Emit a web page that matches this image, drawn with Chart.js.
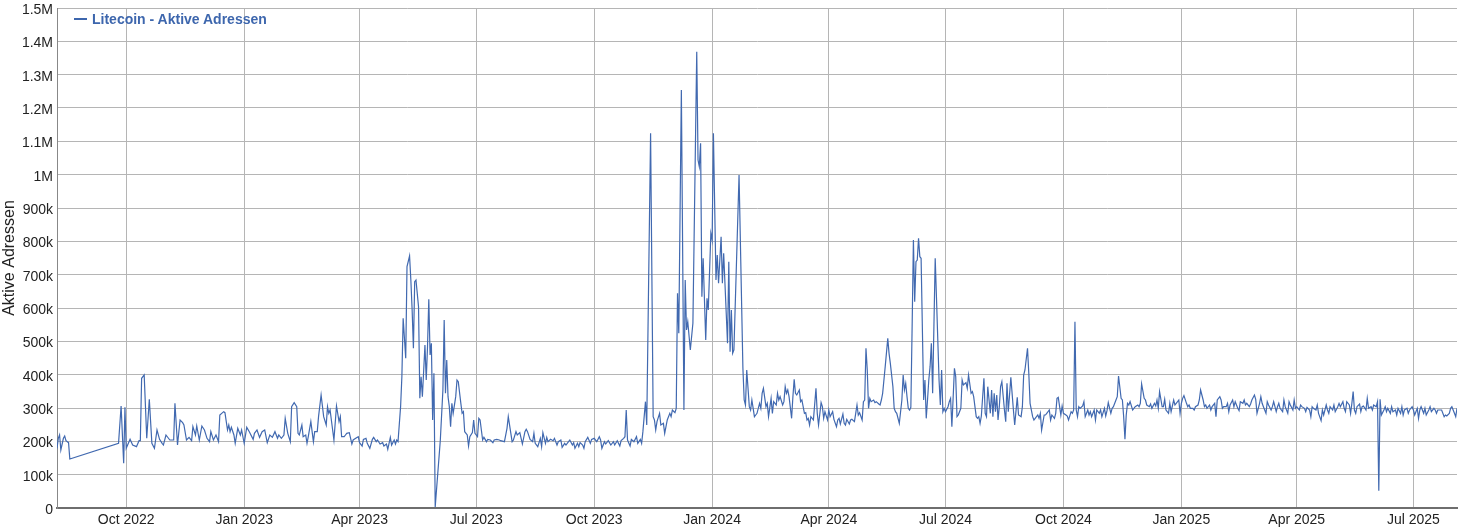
<!DOCTYPE html>
<html>
<head>
<meta charset="utf-8">
<title>Litecoin - Aktive Adressen</title>
<script src="https://cdn.jsdelivr.net/npm/chart.js@4.4.1/dist/chart.umd.min.js"></script>
<style>
  html, body { margin: 0; padding: 0; background: #fff; }
  #wrap { position: relative; width: 1463px; height: 528px; }
  #legend { position: absolute; left: 74px; top: 11px; font: bold 14px Arial, "Liberation Sans", sans-serif; color: #3d66ad; line-height: 16px; white-space: nowrap; }
  #legend i { display: inline-block; width: 13px; height: 2px; background: #3d66ad; vertical-align: middle; margin-right: 5px; position: relative; top: -1px; }
</style>
</head>
<body>
<div id="wrap">
  <canvas id="chart" width="1463" height="528"></canvas>
  <div id="legend"><i></i>Litecoin - Aktive Adressen</div>
</div>
<script>
// day offsets count from 2022-08-08, values in thousands of active addresses
const aug22Feb23 = [
  [0,179],[1,209],[2,219],[3,174],[5,209],[6,216],[7,202],[9,196],[10,147],
  [48,194],[50,306],[52,134],[53,302],[54,179],[57,206],[59,189],[62,184],[64,202],[65,202],
  [66,389],[68,399],[70,209],[72,326],[74,194],[76,179],[78,234],[80,206],[82,194],[83,189],
  [85,219],[88,204],[91,204],[92,314],[94,189],[96,264],[98,256],[99,249],[101,204],[103,212],
  [105,202],[106,244],[108,219],[109,246],[111,204],[113,246],[115,234],[117,209],[119,199],[120,229],
  [122,204],[124,219],[126,199],[127,279],[130,289],[131,286],[133,234],[134,249],[135,229],[136,242],
  [138,219],[139,194],[141,239],[143,219],[144,234],[146,194],[148,242],[150,229],[153,206],[154,224],
  [156,234],[158,212],[160,229],[162,234],[164,196],[166,219],[168,212],[170,229],[172,209],[173,219],
  [175,209],[177,219],[178,269],[180,224],[182,199],[183,304],[185,316]
]
const feb23Aug23 = [
  [187,304],[188,224],[189,219],[191,249],[192,214],[194,219],[195,194],[196,214],[198,259],[200,199],
  [201,229],[203,229],[204,274],[206,339],[208,274],[210,249],[211,304],[212,284],[213,294],[215,234],
  [216,204],[218,306],[220,259],[221,274],[222,214],[224,214],[225,219],[226,224],[228,226],[230,192],
  [231,204],[233,209],[235,214],[236,196],[238,186],[239,206],[241,209],[242,194],[244,179],[246,206],
  [247,212],[249,199],[250,204],[252,192],[254,196],[255,186],[257,192],[258,176],[260,212],[261,189],
  [263,204],[264,192],[265,204],[266,199],[268,304],[269,394],[270,569],[272,449],[273,724],[275,756],
  [276,684],[277,594],[278,479],[279,679],[280,684],[282,604],[283,329],[284,394],[285,334],[287,489],
  [288,384],[289,484],[290,626],[291,459],[292,494],[293,264],[294,404],[295,3],[299,204],[301,354],
  [302,564],[303,344],[304,444],[305,334],[306,304],[307,244],[308,314],[309,284],[311,334],[312,384],
  [313,379],[315,314],[316,284],[317,289],[318,229],[320,219],[321,186],[322,214],[324,226],[325,264],
  [326,224],[328,214],[329,269],[330,264],[332,204],[333,212],[335,199],[336,206],[338,204],[340,196],
  [341,204],[343,206],[345,204],[346,202],[349,199],[351,239],[352,274],[354,224],[355,199],[356,204],
  [358,229],[359,219],[361,226],[363,192],[365,229],[366,236],[367,229],[369,206]
]
const aug23Feb24 = [
  [371,199],[372,224],[373,194],[375,184],[377,209],[378,184],[379,226],[381,194],[382,212],[383,199],
  [385,206],[387,202],[388,209],[390,189],[391,199],[393,204],[394,182],[396,194],[397,189],[399,199],
  [400,204],[402,189],[403,196],[404,179],[406,194],[407,184],[408,196],[410,189],[411,179],[412,199],
  [414,212],[416,194],[417,206],[419,209],[421,199],[423,214],[424,204],[425,179],[427,199],[428,192],
  [430,202],[432,189],[434,199],[435,189],[437,202],[439,186],[440,202],[442,209],[443,214],[444,294],
  [445,204],[447,186],[448,206],[450,199],[452,214],[453,194],[455,206],[456,194],[457,229],[459,319],
  [460,249],[463,1124],[465,274],[466,264],[467,234],[468,259],[470,284],[471,249],[473,254],[474,224],
  [476,264],[478,284],[479,274],[480,294],[482,286],[483,299],[484,644],[485,524],[487,1254],[489,294],
  [490,684],[491,534],[492,559],[494,474],[496,554],[499,1369],[500,1044],[501,1024],[502,1094],[503,634],
  [504,749],[506,504],[507,629],[508,594],[510,824],[511,804],[512,1124],[514,684],[515,759],[516,674],
  [518,814],[519,674],[520,764],[521,674],[523,494],[524,739],[525,469],[526,594],[527,464],[528,474],
  [532,999],[535,420],[536,324],[537,309],[538,414],[540,304],[541,294],[542,324],[544,274],[545,279],
  [546,284],[548,314],[549,299],[550,344],[551,359],[553,304],[554,314],[555,274]
]
const feb24Aug24 = [
  [557,329],[558,284],[559,319],[561,309],[562,344],[563,324],[564,334],[566,309],[567,319],[568,364],
  [569,344],[570,354],[571,334],[573,269],[574,334],[575,386],[576,344],[577,339],[579,354],[580,319],
  [581,324],[583,284],[584,286],[585,264],[586,269],[587,249],[588,274],[590,264],[592,359],[593,284],
  [594,249],[596,316],[597,304],[598,269],[599,289],[601,264],[602,294],[603,274],[605,289],[606,266],
  [608,244],[609,264],[610,269],[611,252],[613,282],[614,254],[615,249],[616,266],[618,252],[619,264],
  [620,266],[622,259],[623,284],[624,309],[625,279],[626,286],[628,264],[629,319],[630,324],[631,479],
  [632,414],[633,299],[634,329],[635,319],[637,324],[638,316],[639,319],[641,312],[642,309],[643,324],
  [644,344],[646,424],[648,509],[649,464],[650,434],[652,364],[653,299],[654,289],[655,284],[657,254],
  [659,324],[660,399],[661,354],[662,374],[663,334],[664,299],[665,294],[666,302],[667,544],[668,804],
  [669,619],[670,739],[671,744],[672,809],[673,754],[674,749],[676,324],[677,384],[678,269],[679,324],
  [680,384],[681,424],[682,494],[683,344],[685,749],[686,629],[688,384],[689,309],[690,414],[691,289],
  [692,299],[693,289],[695,304],[696,319],[697,329],[698,244],[700,419],[701,394],[702,274],[703,279],
  [705,299],[706,384],[707,369],[709,376],[710,359],[711,399],[713,344],[714,349],[715,334],[717,274],
  [718,269],[719,274],[720,254],[721,276],[723,389],[724,284],[725,274],[726,364],[728,284],[729,354],
  [730,274],[731,344],[732,289],[733,339],[734,264],[735,304],[736,364],[737,379],[739,294]
]
const aug24Feb25 = [
  [740,259],[741,374],[742,289],[744,392],[746,294],[747,249],[749,332],[750,279],[752,274],[753,304],
  [754,399],[755,414],[757,479],[758,404],[759,314],[761,274],[762,264],[763,269],[765,279],[766,269],
  [767,284],[768,234],[770,279],[771,279],[772,284],[774,294],[775,264],[776,279],[778,269],[779,284],
  [780,329],[781,332],[783,279],[784,306],[785,284],[787,279],[788,276],[789,264],[791,289],[792,284],
  [793,294],[794,559],[795,294],[796,274],[797,304],[798,299],[800,306],[801,319],[802,274],[804,294],
  [805,279],[806,289],[807,274],[809,294],[810,264],[811,294],[813,284],[814,294],[815,274],[817,299],
  [818,276],[819,292],[820,316],[822,284],[823,299],[824,304],[826,324],[827,334],[828,396],[830,329],
  [831,324],[832,274],[833,206],[834,279],[835,314],[836,309],[837,319],[839,294],[840,299],[841,304],
  [843,309],[844,304],[845,314],[846,372],[848,329],[849,324],[850,309],[852,304],[853,312],[854,299],
  [856,314],[857,306],[858,324],[859,299],[860,349],[862,304],[863,304],[864,326],[865,294],[867,284],
  [868,314],[869,289],[871,324],[872,309],[873,314],[875,324],[876,284],[877,314],[878,329],[879,337],
  [881,314],[882,304],[883,309],[884,299],[886,299],[887,294],[888,304],[890,309],[891,324],[892,354],
  [894,324],[895,304],[896,309],[897,299],[899,309],[900,294],[901,304],[903,314],[904,274],[905,324],
  [907,334],[908,324],[909,299],[910,304]
]
const feb25Aug25 = [
  [912,304],[913,314],[914,289],[915,309],[917,324],[918,304],[919,319],[921,299],[922,292],[923,319],
  [925,314],[926,324],[927,309],[928,314],[930,304],[931,312],[932,324],[934,339],[935,326],[936,284],
  [938,314],[939,334],[940,314],[941,304],[943,284],[944,319],[945,309],[947,294],[948,304],[949,319],
  [951,289],[952,304],[953,314],[954,299],[956,289],[957,324],[958,304],[960,284],[961,319],[962,309],
  [964,294],[965,324],[966,299],[967,304],[969,294],[970,309],[971,304],[973,299],[974,289],[975,302],
  [977,294],[978,274],[979,304],[980,299],[982,294],[983,309],[984,284],[986,262],[987,294],[988,279],
  [990,309],[991,294],[992,284],[993,304],[995,294],[996,309],[997,289],[999,304],[1000,314],[1001,304],
  [1003,319],[1004,299],[1005,289],[1006,319],[1008,309],[1009,284],[1010,314],[1011,349],[1012,294],[1013,284],
  [1014,304],[1016,312],[1017,289],[1018,304],[1019,306],[1021,294],[1022,329],[1023,299],[1025,304],[1026,294],
  [1027,309],[1029,304],[1030,319],[1031,52],[1032,326],[1033,279],[1035,294],[1036,304],[1037,289],[1038,299],
  [1040,284],[1041,304],[1042,289],[1044,294],[1045,279],[1046,299],[1048,284],[1049,304],[1050,279],[1051,294],
  [1053,299],[1054,284],[1055,294],[1057,304],[1058,294],[1059,279],[1061,299],[1062,269],[1063,294],[1064,304],
  [1066,284],[1067,299],[1068,279],[1070,294],[1071,304],[1072,289],[1074,299],[1075,294],[1076,284],[1077,294],
  [1079,294],[1080,294],[1082,274],[1083,279],[1084,276],[1086,284],[1087,299],[1088,304],[1090,284],[1091,274],
  [1092,299]
]

const tickDays = [54, 146, 236, 327, 419, 511, 602, 693, 785, 877, 967, 1058]
const tickLabels = ['Oct 2022', 'Jan 2023', 'Apr 2023', 'Jul 2023', 'Oct 2023', 'Jan 2024',
  'Apr 2024', 'Jul 2024', 'Oct 2024', 'Jan 2025', 'Apr 2025', 'Jul 2025']

const series = [].concat(aug22Feb23, feb23Aug23, aug23Feb24, feb24Aug24, aug24Feb25, feb25Aug25)
  .map(p => ({ x: p[0], y: p[1] * 1000 }))

const fontFamily = 'Arial, "Liberation Sans", sans-serif'
const gridColor = '#b5b5b5'

function formatCount(v){
  if(v >= 1000000) return (v / 1000000) + 'M'
  if(v >= 1000) return (v / 1000) + 'k'
  return String(v)
}

new Chart(document.getElementById('chart'), {
  type: 'line',
  data: {
    datasets: [{
      label: 'Litecoin - Aktive Adressen',
      data: series,
      borderColor: '#4169b0',
      borderWidth: 1.2,
      pointRadius: 0,
      tension: 0,
      fill: false
    }]
  },
  options: {
    responsive: false,
    animation: false,
    devicePixelRatio: 1,
    layout: { padding: { top: 8, right: 6, left: 0, bottom: 0 } },
    plugins: { legend: { display: false }, tooltip: { enabled: false } },
    scales: {
      x: {
        type: 'linear',
        min: 0,
        max: 1092,
        afterBuildTicks: scale => { scale.ticks = tickDays.map(v => ({ value: v })) },
        afterFit: scale => {
          scale.height = 20
          scale.paddingLeft = 0
          scale.paddingRight = 0
        },
        grid: { color: gridColor, drawTicks: false },
        border: { color: '#6e6e6e', width: 2 },
        ticks: {
          padding: 4,
          color: '#222',
          autoSkip: false,
          maxRotation: 0,
          font: { size: 14, family: fontFamily },
          callback: v => tickLabels[tickDays.indexOf(v)] ?? ''
        }
      },
      y: {
        min: 0,
        max: 1500000,
        afterFit: scale => {
          scale.width = 57
          scale.paddingTop = 0
          scale.paddingBottom = 0
        },
        grid: { color: gridColor, drawTicks: false },
        border: { color: '#888', width: 1 },
        title: {
          display: true,
          text: 'Aktive Adressen',
          color: '#222',
          padding: 0,
          font: { size: 16, family: fontFamily }
        },
        ticks: {
          stepSize: 100000,
          padding: 4,
          labelOffset: 2,
          color: '#222',
          font: { size: 14, family: fontFamily },
          callback: formatCount
        }
      }
    }
  }
})
</script>
</body>
</html>
